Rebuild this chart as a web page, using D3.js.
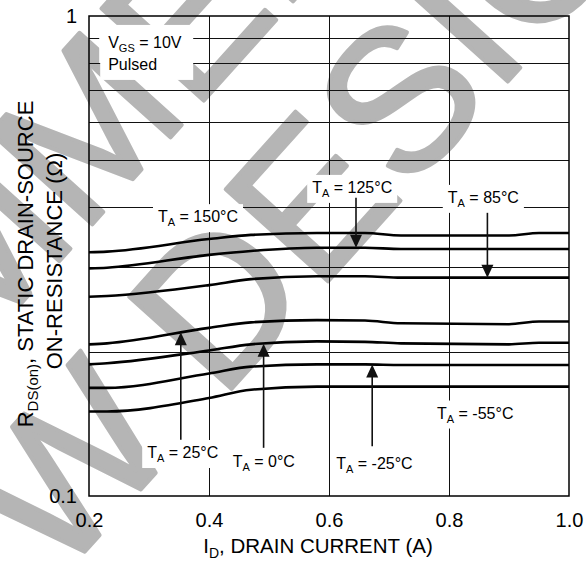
<!DOCTYPE html>
<html>
<head>
<meta charset="utf-8">
<script src="https://cdn.jsdelivr.net/npm/d3@7"></script>
<style>
  body { margin: 0; background: #fff; }
  text { font-family: Arial, "Liberation Sans", sans-serif; fill: #000; }
</style>
</head>
<body>
<div id="chart"></div>
<script>
// drain current (A) sample points shared by every curve
var currents = [0.2, 0.23, 0.4, 0.47, 0.58, 0.66, 0.72, 0.9, 0.95, 1.0];

// on-resistance (ohm) per ambient temperature
var r150 = [0.322, 0.323, 0.343, 0.350, 0.353, 0.353, 0.349, 0.349, 0.353, 0.353];
var r125 = [0.298, 0.299, 0.318, 0.324, 0.329, 0.329, 0.327, 0.327, 0.327, 0.327];
var r85  = [0.260, 0.261, 0.275, 0.283, 0.287, 0.287, 0.285, 0.285, 0.285, 0.285];
var r25  = [0.207, 0.208, 0.224, 0.230, 0.2325, 0.232, 0.229, 0.228, 0.231, 0.231];
var r0   = [0.188, 0.189, 0.201, 0.207, 0.210, 0.2095, 0.208, 0.207, 0.2086, 0.2086];
var rm25 = [0.168, 0.168, 0.180, 0.186, 0.188, 0.188, 0.1875, 0.1875, 0.1875, 0.1875];
var rm55 = [0.150, 0.150, 0.160, 0.1665, 0.169, 0.169, 0.169, 0.169, 0.169, 0.169];

var temps = ["150", "125", "85", "25", "0", "-25", "-55"];
var seriesList = [r150, r125, r85, r25, r0, rm25, rm55];

var xTicks = [0.2, 0.4, 0.6, 0.8, 1.0];
var yTicks = [0.1, 1];
var yGrid = [0.2, 0.3, 0.4, 0.5, 0.6, 0.7, 0.8, 0.9];

// labels: temperature, label left (A), label baseline (ohm), arrow at (A) or null, arrow tail (ohm)
var labelTemp  = ["150", "125", "85", "25", "0", "-25", "-55"];
var labelX     = [0.315, 0.572, 0.798, 0.297, 0.4395, 0.612, 0.78];
var labelY     = [0.372, 0.428, 0.408, 0.120, 0.115, 0.114, 0.145];
var arrowX     = [null, 0.645, 0.864, 0.353, 0.491, 0.672, null];
var arrowTail  = [null, 0.418, 0.389, 0.131, 0.126, 0.127, null];

var margin = {top: 16, right: 17, bottom: 66, left: 89};
var width = 586, height = 562;
var chartWidth = width - margin.left - margin.right;
var chartHeight = height - margin.top - margin.bottom;

var svg = d3.select("#chart").append("svg")
    .attr("width", width)
    .attr("height", height);

// watermark behind the plot, clipped to the page
svg.append("clipPath").attr("id", "page")
    .append("rect").attr("width", width).attr("height", height);
var wm = svg.append("g").attr("clip-path", "url(#page)");
[["NEW DESIGN", "translate(-129,789) rotate(-48)"],
 ["NOT RECOMMENDED", "translate(-734,1142) rotate(-48)"]].forEach(function(w) {
  wm.append("text")
      .attr("transform", w[1])
      .style("font-size", "200px")
      .style("fill", "#b5b5b5")
      .style("stroke", "#b5b5b5")
      .style("stroke-width", 4)
      .style("stroke-linejoin", "round")
      .text(w[0]);
});

var g = svg.append("g")
    .attr("transform", `translate(${margin.left}, ${margin.top})`);

var xScale = d3.scaleLinear().domain([0.2, 1.0]).range([0, chartWidth]);
var yScale = d3.scaleLog().domain([0.1, 1]).range([chartHeight, 0]);

// grid
g.append("g").selectAll("line")
    .data(yGrid).enter().append("line")
    .attr("x1", 0).attr("x2", chartWidth)
    .attr("y1", d => Math.round(yScale(d)) + 0.5)
    .attr("y2", d => Math.round(yScale(d)) + 0.5)
    .attr("stroke", "#111").attr("stroke-width", 1);

g.append("g").selectAll("line")
    .data(xTicks.slice(1, -1)).enter().append("line")
    .attr("y1", 0).attr("y2", chartHeight)
    .attr("x1", d => Math.round(xScale(d)) + 0.5)
    .attr("x2", d => Math.round(xScale(d)) + 0.5)
    .attr("stroke", "#111").attr("stroke-width", 1);

// axes (labels only, the frame is a rect)
var xAxis = d3.axisBottom(xScale).tickValues(xTicks).tickSize(0).tickPadding(17)
    .tickFormat(d3.format(".1f"));
var yAxis = d3.axisLeft(yScale).tickValues(yTicks).tickSize(0).tickPadding(12)
    .tickFormat(d => d === 1 ? "1" : "0.1");

g.append("g").attr("class", "x axis")
    .attr("transform", `translate(0,${chartHeight})`)
    .call(xAxis)
    .call(s => s.select(".domain").remove())
    .selectAll("text")
    .style("font-size", "20px")
    .style("font-family", "Arial, 'Liberation Sans', sans-serif")
    .attr("fill", "#000");

g.append("g").attr("class", "y axis")
    .call(yAxis)
    .call(s => s.select(".domain").remove())
    .selectAll("text")
    .style("font-size", "20px")
    .style("font-family", "Arial, 'Liberation Sans', sans-serif")
    .attr("fill", "#000");

// curves
var line = d3.line()
    .x((d, i) => xScale(currents[i]))
    .y(d => yScale(d))
    .curve(d3.curveMonotoneX);

g.append("g").selectAll("path")
    .data(seriesList).enter().append("path")
    .attr("d", d => line(d))
    .attr("fill", "none")
    .attr("stroke", "#000")
    .attr("stroke-width", 2.6);

// value of a curve at a current, linear in log space
function valueAt(series, c) {
  var i = d3.bisectRight(currents, c);
  i = Math.max(1, Math.min(currents.length - 1, i));
  var t = (c - currents[i - 1]) / (currents[i] - currents[i - 1]);
  return Math.exp(Math.log(series[i - 1]) * (1 - t) + Math.log(series[i]) * t);
}

// annotation labels with white backgrounds
function addLabel(x, y, parts, pad) {
  pad = pad || [5, 4];
  var t = g.append("text")
      .attr("x", x).attr("y", y)
      .style("font-size", "16px");
  parts.forEach(function(p) {
    var ts = t.append("tspan").text(p.text);
    if (p.sub) ts.attr("dy", 4).style("font-size", "11px");
    if (p.after) ts.attr("dy", -4);
  });
  var bb = t.node().getBBox();
  g.insert("rect", function() { return t.node(); })
      .attr("x", bb.x - pad[0]).attr("y", bb.y - pad[1])
      .attr("width", bb.width + 2 * pad[0]).attr("height", bb.height + 2 * pad[1])
      .attr("fill", "#fff");
  return t;
}

labelTemp.forEach(function(temp, i) {
  addLabel(xScale(labelX[i]), yScale(labelY[i]), [
    {text: "T"}, {text: "A", sub: true}, {text: " = " + temp + "°C", after: true}
  ]);
  if (arrowX[i] !== null) {
    var series = seriesList[temps.indexOf(temp)];
    var ax = xScale(arrowX[i]);
    var tip = yScale(valueAt(series, arrowX[i]));
    var tail = yScale(arrowTail[i]);
    var dir = tip > tail ? 1 : -1;
    g.append("line")
        .attr("x1", ax).attr("x2", ax)
        .attr("y1", tail).attr("y2", tip - dir * 10)
        .attr("stroke", "#111").attr("stroke-width", 1.6);
    g.append("path")
        .attr("d", `M${ax - 6},${tip - dir * 13} L${ax + 6},${tip - dir * 13} L${ax},${tip} Z`)
        .attr("fill", "#111");
  }
});

// test condition box
var condX = xScale(0.232);
var cond = addLabel(condX, yScale(0.858), [
  {text: "V"}, {text: "GS", sub: true}, {text: " = 10V", after: true}
], [9, 9]);
var cb = cond.node().getBBox();
g.insert("rect", function() { return cond.node(); })
    .attr("x", cb.x - 8).attr("y", cb.y - 8)
    .attr("width", 93).attr("height", 54)
    .attr("fill", "#fff");
g.append("text")
    .attr("x", condX).attr("y", yScale(0.772))
    .style("font-size", "16px")
    .text("Pulsed");

// frame
g.append("rect")
    .attr("width", chartWidth).attr("height", chartHeight)
    .attr("fill", "none").attr("stroke", "#000").attr("stroke-width", 1.5);

// axis titles
var xt = svg.append("text")
    .attr("x", 318).attr("y", 553)
    .attr("text-anchor", "middle")
    .style("font-size", "20.5px");
xt.append("tspan").text("I");
xt.append("tspan").attr("dy", 5).style("font-size", "14px").text("D");
xt.append("tspan").attr("dy", -5).text(", DRAIN CURRENT (A)");

var yt = svg.append("text")
    .attr("transform", "translate(33,264) rotate(-90)")
    .attr("text-anchor", "middle")
    .style("font-size", "22px");
yt.append("tspan").text("R");
yt.append("tspan").attr("dy", 5).style("font-size", "15px").text("DS(on)");
yt.append("tspan").attr("dy", -5).text(", STATIC DRAIN-SOURCE");

svg.append("text")
    .attr("transform", "translate(62,261) rotate(-90)")
    .attr("text-anchor", "middle")
    .style("font-size", "22px")
    .text("ON-RESISTANCE  (Ω)");
</script>
</body>
</html>
